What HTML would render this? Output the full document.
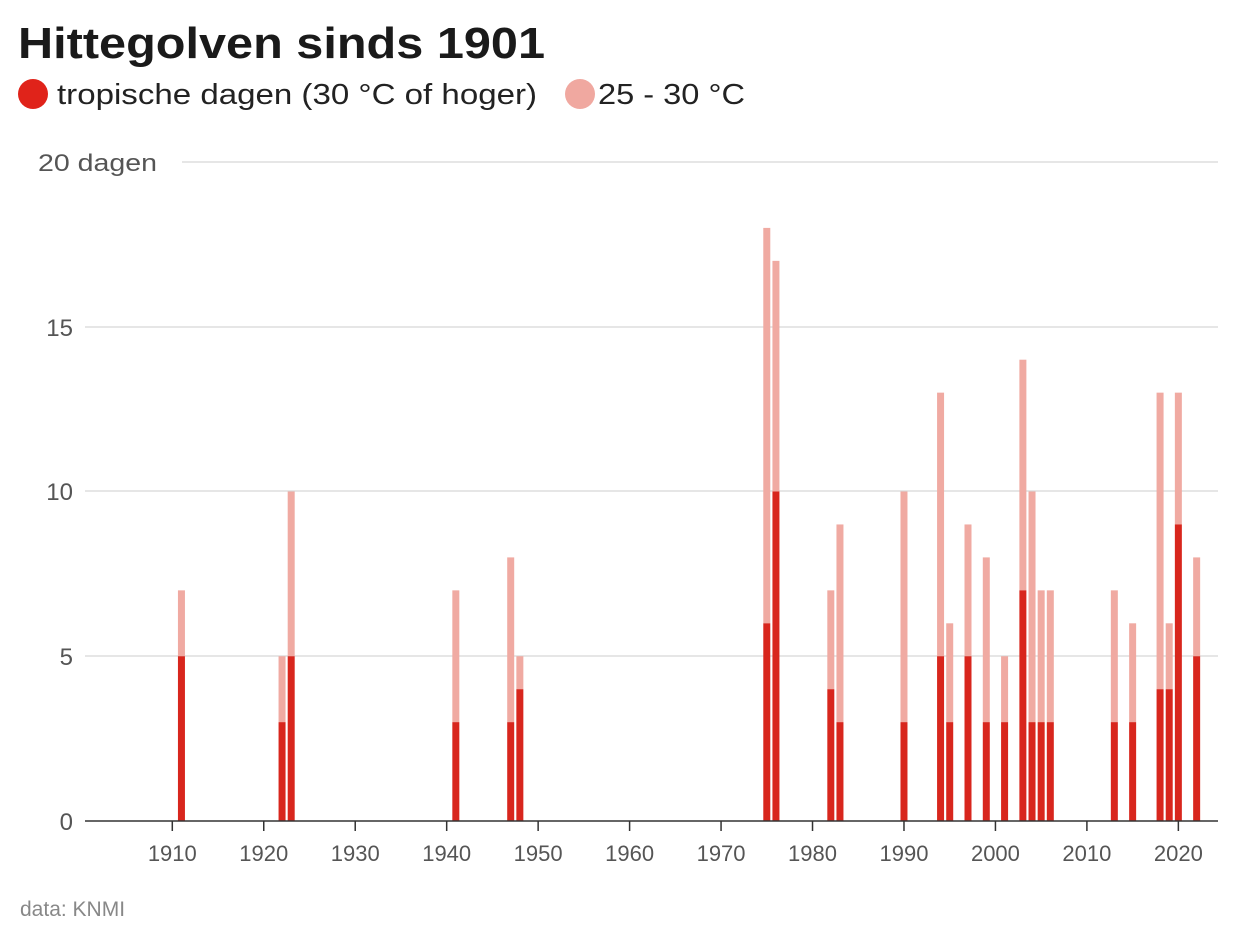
<!DOCTYPE html>
<html><head><meta charset="utf-8"><style>body{margin:0;background:#fff}svg{display:block}</style></head>
<body>
<svg width="1250" height="938" xmlns="http://www.w3.org/2000/svg" font-family="Liberation Sans, sans-serif">
<text x="18" y="58" font-size="44" font-weight="bold" fill="#1a1a1a" textLength="527" lengthAdjust="spacingAndGlyphs">Hittegolven sinds 1901</text>
<circle cx="33" cy="94" r="15" fill="#e0231a"/>
<text x="57" y="104" font-size="29" fill="#222" textLength="480" lengthAdjust="spacingAndGlyphs">tropische dagen (30 °C of hoger)</text>
<circle cx="580" cy="94" r="15" fill="#f0a8a0"/>
<text x="598" y="104" font-size="29" fill="#222" textLength="147" lengthAdjust="spacingAndGlyphs">25 - 30 °C</text>
<g stroke="#d6d6d6" stroke-width="1.2">
<line x1="182" y1="162" x2="1218" y2="162"/>
<line x1="85" y1="327" x2="1218" y2="327"/>
<line x1="85" y1="491" x2="1218" y2="491"/>
<line x1="85" y1="656" x2="1218" y2="656"/>
</g>
<g font-size="24" fill="#555">
<text x="38" y="171" textLength="119" lengthAdjust="spacingAndGlyphs">20 dagen</text>
<text x="73" y="336" text-anchor="end">15</text>
<text x="73" y="500" text-anchor="end">10</text>
<text x="73" y="665" text-anchor="end">5</text>
<text x="73" y="830" text-anchor="end">0</text>
</g>
<g id="bars"></g>
<line x1="85" y1="821" x2="1218" y2="821" stroke="#333" stroke-width="1.5"/>
<g id="ticks" stroke="#333" stroke-width="1.5"></g>
<g id="tl" font-size="22" fill="#555" text-anchor="middle"></g>
<text x="20" y="916" font-size="21" fill="#888">data: KNMI</text>
<script>
var d=[[1911,5,7],[1922,3,5],[1923,5,10],[1941,3,7],[1947,3,8],[1948,4,5],[1975,6,18],[1976,10,17],[1982,4,7],[1983,3,9],[1990,3,10],[1994,5,13],[1995,3,6],[1997,5,9],[1999,3,8],[2001,3,5],[2003,7,14],[2004,3,10],[2005,3,7],[2006,3,7],[2013,3,7],[2015,3,6],[2018,4,13],[2019,4,6],[2020,9,13],[2022,5,8]];
var ns="http://www.w3.org/2000/svg";
function X(y){return 172.3+(y-1910)*9.146}
function Y(v){return 821-v*32.95}
function el(t,a,p){var e=document.createElementNS(ns,t);for(var k in a)e.setAttribute(k,a[k]);document.getElementById(p).appendChild(e);return e}
d.forEach(function(r){var x=X(r[0])-3.5;
el('rect',{x:x,y:Y(r[2]),width:7,height:Y(r[1])-Y(r[2]),fill:'#f0aaa2'},'bars');
el('rect',{x:x,y:Y(r[1]),width:7,height:821-Y(r[1]),fill:'#d8261d'},'bars');});
for(var y=1910;y<=2020;y+=10){el('line',{x1:X(y),y1:821,x2:X(y),y2:831},'ticks');var t=el('text',{x:X(y),y:861},'tl');t.textContent=y;}
</script>
</svg>
</body></html>
